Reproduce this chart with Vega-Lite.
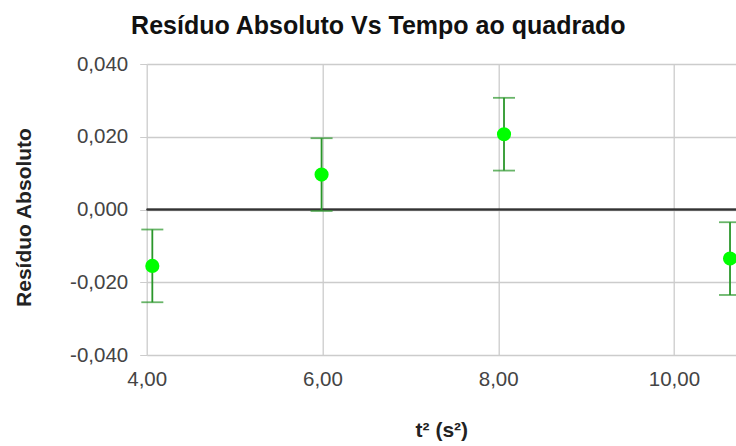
{
  "$schema": "https://vega.github.io/schema/vega-lite/v6.json",
  "width": 589.3,
  "height": 291,
  "autosize": "none",
  "padding": {"left": 146.7, "top": 64, "right": 0, "bottom": 91},
  "background": "white",
  "title": {
    "text": "Resíduo Absoluto Vs Tempo ao quadrado",
    "font": "Liberation Sans",
    "fontSize": 25,
    "fontWeight": "bold",
    "color": "#111111",
    "anchor": "middle",
    "dx": -63,
    "offset": 15
  },
  "data": {
    "values": [
      {"t2": 4.064, "res": -0.0155, "lo": -0.0255, "hi": -0.0055},
      {"t2": 5.99, "res": 0.0096, "lo": -0.0004, "hi": 0.0196},
      {"t2": 8.066, "res": 0.0207, "lo": 0.0107, "hi": 0.0307},
      {"t2": 10.638, "res": -0.0135, "lo": -0.0235, "hi": -0.0035}
    ]
  },
  "layer": [
    {
      "mark": {"type": "rule", "color": "#333333", "strokeWidth": 1.3},
      "encoding": {"y": {"datum": 0, "type": "quantitative", "title": "Resíduo Absoluto"}}
    },
    {
      "mark": {"type": "errorbar", "ticks": true, "color": "#2a962a", "thickness": 1.8, "size": 22},
      "encoding": {
        "x": {"field": "t2", "type": "quantitative", "title": "t² (s²)"},
        "y": {"field": "lo", "type": "quantitative", "title": "Resíduo Absoluto"},
        "y2": {"field": "hi"}
      }
    },
    {
      "mark": {"type": "point", "filled": true, "size": 200, "color": "#00ff00", "opacity": 1},
      "encoding": {
        "x": {
          "field": "t2", "type": "quantitative",
          "scale": {"domain": [4, 10.706], "nice": false, "zero": false},
          "axis": {
            "values": [4, 6, 8, 10], "format": ".2f", "title": "t² (s²)",
            "ticks": false, "labelFlush": false, "labelPadding": 14, "titlePadding": 30
          }
        },
        "y": {
          "field": "res", "type": "quantitative",
          "scale": {"domain": [-0.04, 0.04], "nice": false},
          "axis": {
            "values": [-0.04, -0.02, 0, 0.02, 0.04], "format": ".3f", "title": "Resíduo Absoluto",
            "ticks": true, "tickSize": 7, "tickColor": "#cccccc", "labelPadding": 12, "titlePadding": 35,
            "titleY": 153
          }
        }
      }
    }
  ],
  "config": {
    "locale": {
      "number": {"decimal": ",", "thousands": ".", "grouping": [3], "currency": ["R$", ""], "minus": "-"}
    },
    "view": {"stroke": null},
    "axis": {
      "domain": false,
      "grid": true,
      "gridColor": "#cccccc",
      "gridWidth": 1.3,
      "labelFont": "Liberation Sans",
      "labelFontSize": 20.5,
      "labelColor": "#444444",
      "titleFont": "Liberation Sans",
      "titleFontSize": 21,
      "titleFontWeight": "bold",
      "titleColor": "#222222"
    }
  }
}
